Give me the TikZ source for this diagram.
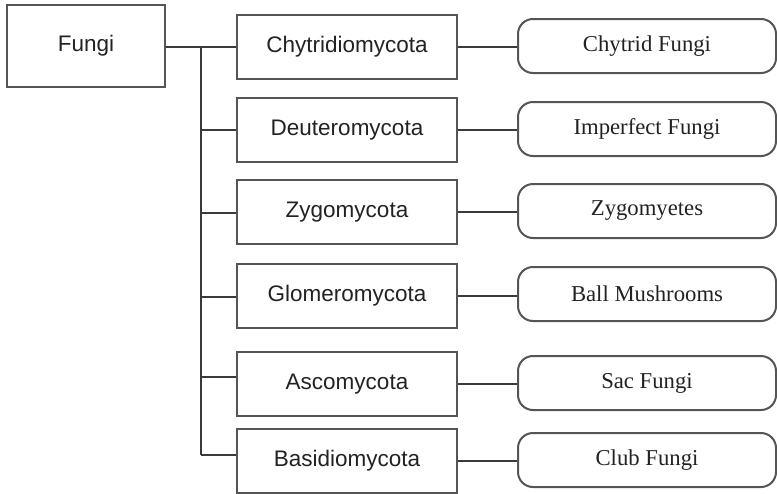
\documentclass[tikz,border=0pt]{standalone}
\usepackage{fontspec}
\setmainfont{Liberation Serif}
\newfontfamily\boxsans{Liberation Sans}
\definecolor{edge}{HTML}{555555}
\definecolor{wire}{HTML}{3A3A3A}
\definecolor{ink}{HTML}{222222}
\begin{document}
\begin{tikzpicture}[x=1pt,y=-1pt,
  rootbox/.style={draw=edge,line width=2pt,minimum width=158pt,minimum height=82pt,inner sep=0pt,
    font=\boxsans\fontsize{22.5}{26}\selectfont,text=ink},
  phylum/.style={draw=edge,line width=2pt,minimum width=220pt,minimum height=64pt,inner sep=0pt,
    font=\boxsans\fontsize{22.5}{26}\selectfont,text=ink},
  common/.style={draw=edge,line width=2pt,rounded corners=15pt,minimum width=258pt,minimum height=54pt,inner sep=0pt,
    font=\fontsize{22.7}{26}\selectfont,text=ink},
  link/.style={draw=wire,line width=2pt}]
\useasboundingbox (0,0) rectangle (777,493);

% root
\node[rootbox] (fungi) at (86,46) {Fungi};

% phyla
\node[phylum] (m1) at (347,47)  {Chytridiomycota};
\node[phylum] (m2) at (347,130) {Deuteromycota};
\node[phylum] (m3) at (347,212) {Zygomycota};
\node[phylum] (m4) at (347,296) {Glomeromycota};
\node[phylum] (m5) at (347,384) {Ascomycota};
\node[phylum] (m6) at (347,461) {Basidiomycota};

% common names
\node[common] (r1) at (647,46)  {Chytrid Fungi};
\node[common] (r2) at (647,129) {Imperfect Fungi};
\node[common] (r3) at (647,211) {Zygomyetes};
\node[common] (r4) at (647,294) {Ball Mushrooms};
\node[common] (r5) at (647,383) {Sac Fungi};
\node[common] (r6) at (647,460) {Club Fungi};

% trunk junctions
\coordinate (j1) at (201,47);
\coordinate (j2) at (201,130);
\coordinate (j3) at (201,213);
\coordinate (j4) at (201,297);
\coordinate (j5) at (201,377);
\coordinate (j6) at (201,455);

% root to first phylum, and the trunk
\draw[link] (fungi.east |- j1) -- (m1.west);
\draw[link] (j1) -- (j6);

% branches off the trunk
\foreach \i in {2,...,6} \draw[link] (j\i) -- (j\i -| m\i.west);

% phylum to common name
\foreach \i in {1,...,6} \draw[link] (m\i.east) -- (m\i.east -| r\i.west);
\end{tikzpicture}
\end{document}
